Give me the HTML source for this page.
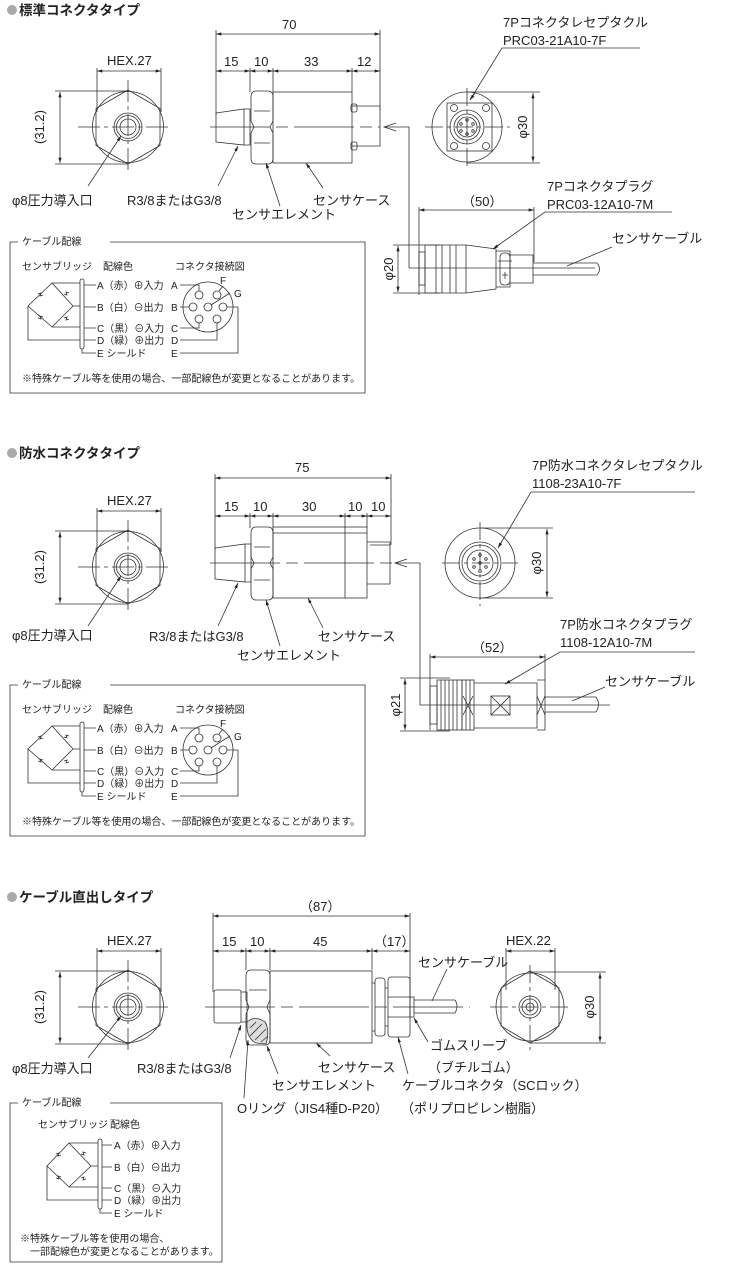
<!DOCTYPE html>
<html><head><meta charset="utf-8"><style>
html,body{margin:0;padding:0;background:#fff}
svg{display:block}
text{font-family:"Liberation Sans","Noto Sans CJK JP",sans-serif;fill:#222}
.l{font-size:13px}
.s{font-size:10px}
.t{font-size:13.5px;font-weight:bold}
</style></head><body>
<svg width="745" height="1280" viewBox="0 0 745 1280" xmlns="http://www.w3.org/2000/svg">
<defs>
<marker id="a" viewBox="0 0 10 6" refX="10" refY="3" markerWidth="7" markerHeight="4" orient="auto-start-reverse"><path d="M0,0L10,3L0,6z" fill="#222"/></marker>
</defs>
<g fill="none" stroke="#333" stroke-width="0.8">

<!-- ===== SECTION 1 ===== -->
<circle cx="128" cy="127" r="35.5"/>
<polygon points="128,90 160,108.5 160,145.5 128,164 96,145.5 96,108.5"/>
<circle cx="128" cy="127" r="14"/><circle cx="128" cy="127" r="11.5"/><circle cx="128" cy="127" r="8"/>
<path d="M78,127H172M128,80V172" stroke-dasharray="22,4,4,4"/>
<path d="M97,68V112M161,68V112"/>
<path d="M97,71H161" marker-start="url(#a)" marker-end="url(#a)"/>
<path d="M55,91H128M55,164H128"/>
<path d="M60,92V163" marker-start="url(#a)" marker-end="url(#a)"/>
<path d="M88,186L121,136" marker-end="url(#a)"/>
<path d="M216,30V115M380,30V110M250,68V92M273,68V92M352,68V92"/>
<path d="M216,34H380" marker-start="url(#a)" marker-end="url(#a)"/>
<path d="M216,71H250" marker-start="url(#a)" marker-end="url(#a)"/>
<path d="M250,71H273" marker-start="url(#a)" marker-end="url(#a)"/>
<path d="M273,71H352" marker-start="url(#a)" marker-end="url(#a)"/>
<path d="M352,71H380" marker-start="url(#a)" marker-end="url(#a)"/>
<path d="M216,113L244,109V145L216,142Z"/><path d="M244,109H250V145H244"/>
<path d="M256,91H268Q273,91 273,97V121L270,127L273,133V158Q273,164 268,164H256Q251,164 251,158V133L254,127L251,121V97Q251,91 256,91Z"/>
<path d="M254,111H270M254,143H270"/>
<rect x="273" y="92" width="79" height="71"/>
<path d="M352,106H380V146H352"/>
<rect x="351" y="104" width="6" height="8" rx="2"/><rect x="351" y="142" width="6" height="8" rx="2"/>
<path d="M210,127H380" stroke-dasharray="60,6,12,6"/>
<path d="M396,123L384,127L396,131M384,127H409V268M409,268H595" />
<path d="M218,186L238,146" marker-end="url(#a)"/>
<path d="M280,206L266,163" marker-end="url(#a)"/>
<path d="M323,188L306,163" marker-end="url(#a)"/>
<circle cx="467" cy="127" r="35"/>
<rect x="447" y="103" width="45" height="48"/>
<circle cx="454" cy="108" r="3.5"/><circle cx="486" cy="108" r="3.5"/><circle cx="454" cy="146" r="3.5"/><circle cx="486" cy="146" r="3.5"/>
<circle cx="467" cy="127" r="17"/><circle cx="467" cy="127" r="13"/><circle cx="467" cy="127" r="10"/>
<circle cx="467" cy="120" r="1.3"/><circle cx="467" cy="134" r="1.3"/><circle cx="461" cy="124" r="1.3"/><circle cx="473" cy="124" r="1.3"/><circle cx="461" cy="131" r="1.3"/><circle cx="473" cy="131" r="1.3"/>
<path d="M425,127H510M467,88V166" stroke-dasharray="18,4,4,4"/>
<path d="M467,92H540M467,163H540"/>
<path d="M533,93V162" marker-start="url(#a)" marker-end="url(#a)"/>
<path d="M640,48H502L470,100" />
<path d="M475,93L470,100" marker-end="url(#a)"/>
<path d="M419,207V295M534,207V262"/>
<path d="M419,210H534" marker-start="url(#a)" marker-end="url(#a)"/>
<path d="M393,245H440M393,293H440"/>
<path d="M398,246V292" marker-start="url(#a)" marker-end="url(#a)"/>
<rect x="419" y="252" width="6" height="33"/>
<path d="M425,245H466L496,249V289L466,293H425Z"/>
<path d="M436,245V293M442,245V293M450,245V293M456,245V293M466,245V293"/>
<path d="M496,251H510V287H496M510,255H533V283H510"/>
<rect x="500" y="253" width="10" height="32" rx="4"/>
<path d="M498,261H512M505,272V279M502,275H508"/>
<path d="M533,263H597M533,275H597"/><path d="M597,263Q602,269 597,275"/>
<path d="M672,212H545L493,249" />
<path d="M500,244L493,249" marker-end="url(#a)"/>
<path d="M612,247L567,266" />
<path d="M18,242H10V393H365V242H110"/>
</g>

<g id="w1" fill="none" stroke="#333" stroke-width="0.8">
<path d="M52,283L28,306L52,327L73,306Z"/>
<path d="M52,283H80M73,306H80M52,327H80M28,306V340H80"/>
<rect x="80" y="279" width="4" height="70" rx="2"/>
<path d="M84,285H96M84,307H96M84,328H96M84,340H96M82,349V353H96"/>
<path d="M38,294l3,-1l-1,3l3,-1M64,294l3,1l-1,-3l3,1M38,318l3,1l-1,-3l3,1M64,318l3,-1l-1,3l3,-1"/>
<circle cx="208" cy="307" r="25"/>
<circle cx="199" cy="295" r="4"/><circle cx="217" cy="295" r="4"/><circle cx="193" cy="307" r="4"/><circle cx="208" cy="307" r="4"/><circle cx="223" cy="307" r="4"/><circle cx="199" cy="319" r="4"/><circle cx="217" cy="319" r="4"/>
<path d="M180,285H199V291M180,307H189M180,328H199V323M180,340H217V323M180,353H238V307H227M211,305L230,293M219,291L223,286"/>
</g>

<circle cx="12" cy="10" r="5" fill="#aaa"/>
<text x="19" y="15" class="t">標準コネクタタイプ</text>
<text x="107" y="65" class="l">HEX.27</text>
<text x="44" y="127" class="l" transform="rotate(-90 44 127)" text-anchor="middle">(31.2)</text>
<text x="12" y="205" class="l">φ8圧力導入口</text>
<text x="282" y="29" class="l">70</text>
<text x="224" y="66" class="l">15</text><text x="254" y="66" class="l">10</text><text x="304" y="66" class="l">33</text><text x="357" y="66" class="l">12</text>
<text x="127" y="205" class="l">R3/8またはG3/8</text>
<text x="232" y="219" class="l">センサエレメント</text>
<text x="313" y="205" class="l">センサケース</text>
<text x="503" y="27" class="l">7Pコネクタレセプタクル</text>
<text x="503" y="45" class="l">PRC03-21A10-7F</text>
<text x="527" y="127" class="l" transform="rotate(-90 527 127)" text-anchor="middle">φ30</text>
<text x="462" y="206" class="l">（50）</text>
<text x="547" y="191" class="l">7Pコネクタプラグ</text>
<text x="547" y="209" class="l">PRC03-12A10-7M</text>
<text x="612" y="243" class="l">センサケーブル</text>
<text x="393" y="269" class="l" transform="rotate(-90 393 269)" text-anchor="middle">φ20</text>
<g id="wt1" class="s">
<text x="22" y="245" class="s">ケーブル配線</text>
<text x="22" y="270" class="s">センサブリッジ</text>
<text x="103" y="270" class="s">配線色</text>
<text x="175" y="270" class="s">コネクタ接続図</text>
<text x="97" y="289" class="s">A（赤）⊕入力</text>
<text x="97" y="311" class="s">B（白）⊖出力</text>
<text x="97" y="332" class="s">C（黒）⊖入力</text>
<text x="97" y="344" class="s">D（緑）⊕出力</text>
<text x="97" y="357" class="s">E シールド</text>
<text x="171" y="289" class="s">A</text><text x="171" y="311" class="s">B</text><text x="171" y="332" class="s">C</text><text x="171" y="344" class="s">D</text><text x="171" y="357" class="s">E</text>
<text x="220" y="284" class="s">F</text><text x="234" y="297" class="s">G</text>
<text x="22" y="382" class="s">※特殊ケーブル等を使用の場合、一部配線色が変更となることがあります。</text>
</g>

<!-- ===== SECTION 2 ===== -->
<g fill="none" stroke="#333" stroke-width="0.8">
<circle cx="128" cy="567" r="35.5"/>
<polygon points="128,530 160,548.5 160,585.5 128,604 96,585.5 96,548.5"/>
<circle cx="128" cy="567" r="14"/><circle cx="128" cy="567" r="11.5"/><circle cx="128" cy="567" r="8"/>
<path d="M78,567H172M128,520V612" stroke-dasharray="22,4,4,4"/>
<path d="M97,508V552M161,508V552"/>
<path d="M97,511H161" marker-start="url(#a)" marker-end="url(#a)"/>
<path d="M55,531H128M55,604H128"/>
<path d="M60,532V603" marker-start="url(#a)" marker-end="url(#a)"/>
<path d="M88,626L121,576" marker-end="url(#a)"/>
<path d="M215,474V550M391,474V545M250,513V528M273,513V528M345,513V528M367,513V528"/>
<path d="M215,478H391" marker-start="url(#a)" marker-end="url(#a)"/>
<path d="M215,516H250" marker-start="url(#a)" marker-end="url(#a)"/>
<path d="M250,516H273" marker-start="url(#a)" marker-end="url(#a)"/>
<path d="M273,516H345" marker-start="url(#a)" marker-end="url(#a)"/>
<path d="M345,516H367" marker-start="url(#a)" marker-end="url(#a)"/>
<path d="M367,516H391" marker-start="url(#a)" marker-end="url(#a)"/>
<path d="M215,548L245,544V582L215,579Z"/><path d="M245,544H251V582H245"/>
<path d="M256,527H268Q273,527 273,533V557L270,563L273,569V594Q273,600 268,600H256Q251,600 251,594V569L254,563L251,557V533Q251,527 256,527Z"/>
<path d="M254,547H270M254,580H270"/>
<rect x="273" y="527" width="94" height="71"/><path d="M345,527V598M273,533H367"/>
<path d="M367,542H390V584H367M370,545H390"/>
<path d="M210,563H392" stroke-dasharray="70,6,12,6"/>
<path d="M407,559L395,563L407,567M395,563H420V705M420,705H610"/>
<path d="M218,626L238,583" marker-end="url(#a)"/>
<path d="M280,646L266,600" marker-end="url(#a)"/>
<path d="M323,628L308,598" marker-end="url(#a)"/>
<circle cx="480" cy="563" r="35"/>
<circle cx="480" cy="563" r="21"/><circle cx="480" cy="563" r="18"/><circle cx="480" cy="563" r="13"/>
<circle cx="480" cy="555" r="1.3"/><circle cx="480" cy="571" r="1.3"/><circle cx="474" cy="559" r="1.3"/><circle cx="486" cy="559" r="1.3"/><circle cx="474" cy="567" r="1.3"/><circle cx="486" cy="567" r="1.3"/><circle cx="480" cy="563" r="1.3"/>
<path d="M442,563H518M480,522V606" stroke-dasharray="18,4,4,4"/>
<path d="M480,528H553M480,598H553"/>
<path d="M547,529V597" marker-start="url(#a)" marker-end="url(#a)"/>
<path d="M695,492H531L498,548"/>
<path d="M502,541L498,548" marker-end="url(#a)"/>
<path d="M430,654V730M545,654V680"/>
<path d="M430,657H545" marker-start="url(#a)" marker-end="url(#a)"/>
<path d="M400,678H450M400,731H450"/>
<path d="M405,679V730" marker-start="url(#a)" marker-end="url(#a)"/>
<rect x="430" y="686" width="7" height="38"/>
<rect x="437" y="680" width="25" height="50"/><rect x="462" y="680" width="12" height="50"/>
<path d="M441,680V730M445,680V730M449,680V730M453,680V730M457,680V730M466,680V730M470,680V730"/>
<path d="M474,683H537V728H474M537,680H545V730H537"/>
<rect x="491" y="696" width="19" height="19"/><path d="M491,696L510,715M510,696L491,715"/>
<path d="M463,696L473,715M473,696L463,715M537,696L545,715M545,696L537,715"/>
<path d="M545,697H596M545,712H596"/><path d="M596,697Q601,704 596,712"/>
<path d="M695,652H560L505,684"/>
<path d="M512,680L505,684" marker-end="url(#a)"/>
<path d="M605,687L572,701"/>
<path d="M18,685H10V836H365V685H110"/>
</g>
<use href="#w1" transform="translate(0,443)"/>
<circle cx="12" cy="453" r="5" fill="#aaa"/>
<text x="19" y="458" class="t">防水コネクタタイプ</text>
<text x="107" y="505" class="l">HEX.27</text>
<text x="44" y="567" class="l" transform="rotate(-90 44 567)" text-anchor="middle">(31.2)</text>
<text x="12" y="640" class="l">φ8圧力導入口</text>
<text x="295" y="472" class="l">75</text>
<text x="224" y="511" class="l">15</text><text x="253" y="511" class="l">10</text><text x="302" y="511" class="l">30</text><text x="348" y="511" class="l">10</text><text x="371" y="511" class="l">10</text>
<text x="149" y="641" class="l">R3/8またはG3/8</text>
<text x="237" y="660" class="l">センサエレメント</text>
<text x="318" y="641" class="l">センサケース</text>
<text x="532" y="470" class="l">7P防水コネクタレセプタクル</text>
<text x="532" y="488" class="l">1108-23A10-7F</text>
<text x="541" y="563" class="l" transform="rotate(-90 541 563)" text-anchor="middle">φ30</text>
<text x="472" y="652" class="l">（52）</text>
<text x="560" y="629" class="l">7P防水コネクタプラグ</text>
<text x="560" y="647" class="l">1108-12A10-7M</text>
<text x="605" y="686" class="l">センサケーブル</text>
<text x="400" y="705" class="l" transform="rotate(-90 400 705)" text-anchor="middle">φ21</text>
<use href="#wt1" transform="translate(0,443)"/>

<!-- ===== SECTION 3 ===== -->
<g fill="none" stroke="#333" stroke-width="0.8">
<circle cx="128" cy="1007" r="35.5"/>
<polygon points="128,970 160,988.5 160,1025.5 128,1044 96,1025.5 96,988.5"/>
<circle cx="128" cy="1007" r="14"/><circle cx="128" cy="1007" r="11.5"/><circle cx="128" cy="1007" r="8"/>
<path d="M78,1007H172M128,960V1052" stroke-dasharray="22,4,4,4"/>
<path d="M97,948V992M161,948V992"/>
<path d="M97,951H161" marker-start="url(#a)" marker-end="url(#a)"/>
<path d="M55,971H128M55,1044H128"/>
<path d="M60,972V1043" marker-start="url(#a)" marker-end="url(#a)"/>
<path d="M88,1058L121,1016" marker-end="url(#a)"/>
<path d="M213,913V992M410,913V1000M246,948V970M270,948V970M372,948V970"/>
<path d="M213,916H410" marker-start="url(#a)" marker-end="url(#a)"/>
<path d="M213,951H246" marker-start="url(#a)" marker-end="url(#a)"/>
<path d="M246,951H270" marker-start="url(#a)" marker-end="url(#a)"/>
<path d="M270,951H372" marker-start="url(#a)" marker-end="url(#a)"/>
<path d="M372,951H410" marker-start="url(#a)" marker-end="url(#a)"/>
<rect x="214" y="990" width="27" height="33" rx="2"/><path d="M241,992H247V1022H241"/>
<path d="M251,970H265Q270,970 270,976V1000L267,1007L270,1014V1039Q270,1045 265,1045H251Q246,1045 246,1039V1014L249,1007L246,1000V976Q246,970 251,970Z"/>
<path d="M249,990H267M249,1024H267"/>
<path d="M247,1022Q255,1015 265,1022Q270,1030 266,1044L256,1043Q246,1038 247,1022Z" fill="#ddd"/>
<path d="M250,1028L256,1022M250,1036L262,1024M255,1040L266,1029M261,1042L268,1036"/>
<rect x="270" y="971" width="102" height="72"/>
<rect x="375" y="978" width="10" height="58" rx="3"/><path d="M372,983H375M372,1031H375M385,988H388M385,1026H388"/>
<rect x="388" y="977" width="22" height="60" rx="3"/><path d="M388,997H410M388,1017H410"/>
<rect x="410" y="997" width="4" height="20"/>
<path d="M414,1000H455M414,1013H455"/><path d="M455,1000Q459,1006 455,1013"/>
<path d="M205,1007H470" stroke-dasharray="70,6,12,6"/>
<path d="M230,1058L241,1025" marker-end="url(#a)"/>
<path d="M278,1074L267,1046" marker-end="url(#a)"/>
<path d="M244,1098L248,1040" marker-end="url(#a)"/>
<path d="M330,1056L316,1043" marker-end="url(#a)"/>
<path d="M408,1074L398,1037" marker-end="url(#a)"/>
<path d="M428,1042L414,1018" marker-end="url(#a)"/>
<path d="M447,969L432,1001"/>
<circle cx="530" cy="1007" r="34"/>
<polygon points="530,971 559,988 559,1026 530,1043 501,1026 501,988"/>
<circle cx="530" cy="1007" r="11"/><circle cx="530" cy="1007" r="8"/><circle cx="530" cy="1007" r="4"/>
<path d="M490,1007H572M530,965V1050" stroke-dasharray="18,4,4,4"/>
<path d="M506,948V990M555,948V990"/>
<path d="M506,951H555" marker-start="url(#a)" marker-end="url(#a)"/>
<path d="M530,972H606M530,1043H606"/>
<path d="M600,973V1042" marker-start="url(#a)" marker-end="url(#a)"/>
<path d="M18,1103H10V1262H222V1103H110"/>
</g>
<g fill="none" stroke="#333" stroke-width="0.8" transform="translate(42,860)">
<path d="M27,283L5,306L27,327L49,306Z"/>
<path d="M27,283H56M49,306H56M27,327H56M5,306V340H56"/>
<rect x="56" y="279" width="4" height="70" rx="2"/>
<path d="M60,285H70M60,307H70M60,328H70M60,340H70M58,349V353H70"/>
<path d="M14,294l3,-1l-1,3l3,-1M39,294l3,1l-1,-3l3,1M14,318l3,1l-1,-3l3,1M39,318l3,-1l-1,3l3,-1"/>
</g>
<circle cx="12" cy="897" r="5" fill="#aaa"/>
<text x="19" y="902" class="t">ケーブル直出しタイプ</text>
<text x="107" y="945" class="l">HEX.27</text>
<text x="44" y="1007" class="l" transform="rotate(-90 44 1007)" text-anchor="middle">(31.2)</text>
<text x="12" y="1073" class="l">φ8圧力導入口</text>
<text x="137" y="1073" class="l">R3/8またはG3/8</text>
<text x="300" y="911" class="l">（87）</text>
<text x="222" y="946" class="l">15</text><text x="250" y="946" class="l">10</text><text x="313" y="946" class="l">45</text><text x="374" y="946" class="l">（17）</text>
<text x="418" y="967" class="l">センサケーブル</text>
<text x="430" y="1050" class="l">ゴムスリーブ</text>
<text x="428" y="1072" class="l">（ブチルゴム）</text>
<text x="318" y="1072" class="l">センサケース</text>
<text x="272" y="1090" class="l">センサエレメント</text>
<text x="402" y="1090" class="l">ケーブルコネクタ（SCロック）</text>
<text x="237" y="1113" class="l">Oリング（JIS4種D-P20）</text>
<text x="401" y="1113" class="l">（ポリプロピレン樹脂）</text>
<text x="506" y="945" class="l">HEX.22</text>
<text x="594" y="1007" class="l" transform="rotate(-90 594 1007)" text-anchor="middle">φ30</text>
<text x="22" y="1106" class="s">ケーブル配線</text>
<text x="38" y="1128" class="s">センサブリッジ</text>
<text x="110" y="1128" class="s">配線色</text>
<text x="114" y="1149" class="s">A（赤）⊕入力</text>
<text x="114" y="1171" class="s">B（白）⊖出力</text>
<text x="114" y="1192" class="s">C（黒）⊖入力</text>
<text x="114" y="1204" class="s">D（緑）⊕出力</text>
<text x="114" y="1217" class="s">E シールド</text>
<text x="20" y="1242" class="s">※特殊ケーブル等を使用の場合、</text>
<text x="30" y="1255" class="s">一部配線色が変更となることがあります。</text>
</svg>
</body></html>
